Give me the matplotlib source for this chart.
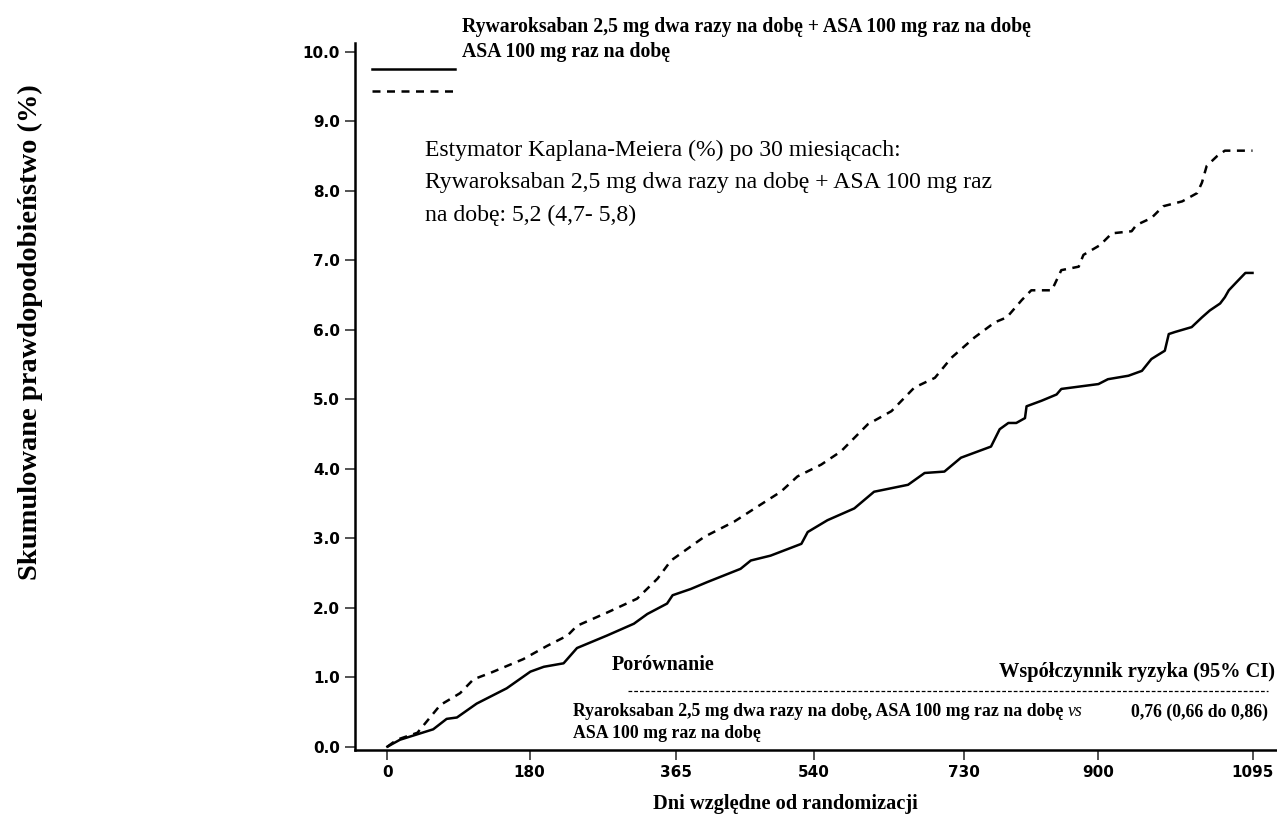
import matplotlib
matplotlib.use("Agg")
import matplotlib.pyplot as plt

# Krzywe Kaplana-Meiera (dni, %)
dni_riwa = [0, 16, 58, 75, 88, 113, 151, 181, 198, 223, 240, 278, 312, 329, 354, 361,
            384, 405, 447, 460, 485, 524, 532, 557, 591, 616, 659, 680, 705, 726, 764,
            775, 786, 796, 807, 809, 828, 847, 853, 900, 912, 938, 955, 967, 974, 984,
            989, 997, 1018, 1031, 1041, 1054, 1060, 1065, 1075, 1086, 1095]
proc_riwa = [0, 0.10, 0.25, 0.40, 0.42, 0.62, 0.84, 1.08, 1.15, 1.20, 1.42, 1.60, 1.77,
             1.91, 2.06, 2.18, 2.27, 2.37, 2.56, 2.68, 2.75, 2.92, 3.09, 3.26, 3.43, 3.67,
             3.77, 3.94, 3.96, 4.16, 4.32, 4.57, 4.66, 4.66, 4.73, 4.90, 4.98, 5.07, 5.15,
             5.22, 5.29, 5.34, 5.41, 5.58, 5.63, 5.70, 5.94, 5.97, 6.04, 6.18, 6.28, 6.38,
             6.47, 6.57, 6.69, 6.82, 6.82]

dni_asa = [0, 12, 38, 67, 92, 109, 130, 172, 202, 228, 240, 278, 316, 342, 359, 380,
           401, 439, 469, 498, 519, 549, 574, 608, 638, 667, 693, 714, 743, 769, 784,
           803, 815, 841, 853, 875, 881, 902, 917, 942, 948, 967, 982, 1006, 1025, 1031,
           1037, 1050, 1060, 1095]
proc_asa = [0, 0.10, 0.20, 0.60, 0.77, 0.97, 1.06, 1.26, 1.45, 1.60, 1.74, 1.93, 2.13,
            2.42, 2.68, 2.85, 3.02, 3.24, 3.46, 3.67, 3.89, 4.06, 4.25, 4.64, 4.83, 5.17,
            5.31, 5.60, 5.89, 6.11, 6.18, 6.43, 6.57, 6.57, 6.86, 6.91, 7.08, 7.22, 7.39,
            7.42, 7.51, 7.61, 7.78, 7.85, 7.97, 8.12, 8.36, 8.50, 8.58, 8.58]

xticks = [0, 180, 365, 540, 730, 900, 1095]
yticks = [0, 1, 2, 3, 4, 5, 6, 7, 8, 9, 10]

etykieta_riwa = "Rywaroksaban 2,5 mg dwa razy na dobę + ASA 100 mg raz na dobę"
etykieta_asa = "ASA 100 mg raz na dobę"
linie_km = ["Estymator Kaplana-Meiera (%) po 30 miesiącach:",
            "Rywaroksaban 2,5 mg dwa razy na dobę + ASA 100 mg raz",
            "na dobę: 5,2 (4,7- 5,8)"]

W, H = 1277, 818


def px(x, y):
    # piksele obrazka -> ułamki figury
    return x / W, 1 - y / H


serif = "Liberation Serif"
sans = "DejaVu Sans"
kreski = (0, (3.2, 2.6))

fig = plt.figure(figsize=(W / 100, H / 100), dpi=100)
ax = fig.add_axes([355 / W, 1 - 750 / H, (1277 - 355) / W, (750 - 43) / H])

ax.plot(dni_riwa, proc_riwa, color="black", lw=1.8)
ax.plot(dni_asa, proc_asa, color="black", lw=1.8, linestyle=kreski)

ax.set_xlim(-41, 1126)
ax.set_ylim(-0.048, 10.13)
ax.set_xticks(xticks)
ax.set_xticklabels([str(v) for v in xticks], fontfamily=sans, fontweight="bold", fontsize=11)
ax.set_yticks(yticks)
ax.set_yticklabels([f"{v:.1f}" for v in yticks], fontfamily=sans, fontweight="bold", fontsize=11)
ax.tick_params(axis="both", direction="out", length=7, width=1.3, color="#444444")
ax.tick_params(axis="x", pad=4)
ax.tick_params(axis="y", pad=4)
for s in ["top", "right"]:
    ax.spines[s].set_visible(False)
for s in ["left", "bottom"]:
    ax.spines[s].set_linewidth(1.8)

ax.set_xlabel("Dni względne od randomizacji", fontfamily=serif, fontweight="bold", fontsize=14.7)
ax.xaxis.set_label_coords((785 - 355) / (1277 - 355), -0.062)
fig.text(*px(30, 332), "Skumulowane prawdopodobieństwo (%)", rotation=90,
         fontfamily=serif, fontweight="bold", fontsize=20.5, ha="center", va="center")

# legenda
ax.plot([0.018, 0.108], [0.963, 0.963], transform=ax.transAxes, color="black", lw=1.8)
ax.plot([0.018, 0.108], [0.932, 0.932], transform=ax.transAxes, color="black", lw=1.8,
        linestyle=kreski)
fig.text(*px(462, 27), etykieta_riwa, fontfamily=serif, fontweight="bold", fontsize=14.25,
         ha="left", va="center")
fig.text(*px(462, 52), etykieta_asa, fontfamily=serif, fontweight="bold", fontsize=14.25,
         ha="left", va="center")

# estymator KM
for i, linia in enumerate(linie_km):
    fig.text(*px(425, 150 + 32.5 * i), linia, fontfamily=serif, fontsize=17.1,
             ha="left", va="center")

# tabelka porównania
fig.text(*px(612, 665), "Porównanie", fontfamily=serif, fontweight="bold", fontsize=14.5,
         ha="left", va="center")
fig.text(*px(1275, 672), "Współczynnik ryzyka (95% CI)", fontfamily=serif, fontweight="bold",
         fontsize=14.7, ha="right", va="center")
fig.add_artist(plt.Line2D([628 / W, 1268 / W], [1 - 691 / H, 1 - 691 / H], color="black",
                          lw=0.9, linestyle=(0, (3, 1.6))))
fig.text(*px(573, 712), "Ryaroksaban 2,5 mg dwa razy na dobę, ASA 100 mg raz na dobę",
         fontfamily=serif, fontweight="bold", fontsize=12.75, ha="left", va="center")
fig.text(*px(1068, 712), "vs", fontfamily=serif, fontstyle="italic", fontsize=12.75,
         ha="left", va="center")
fig.text(*px(573, 733), "ASA 100 mg raz na dobę", fontfamily=serif, fontweight="bold",
         fontsize=12.75, ha="left", va="center")
fig.text(*px(1268, 712), "0,76 (0,66 do 0,86)", fontfamily=serif, fontweight="bold",
         fontsize=12.75, ha="right", va="center")

fig.savefig("out.png", dpi=100)
